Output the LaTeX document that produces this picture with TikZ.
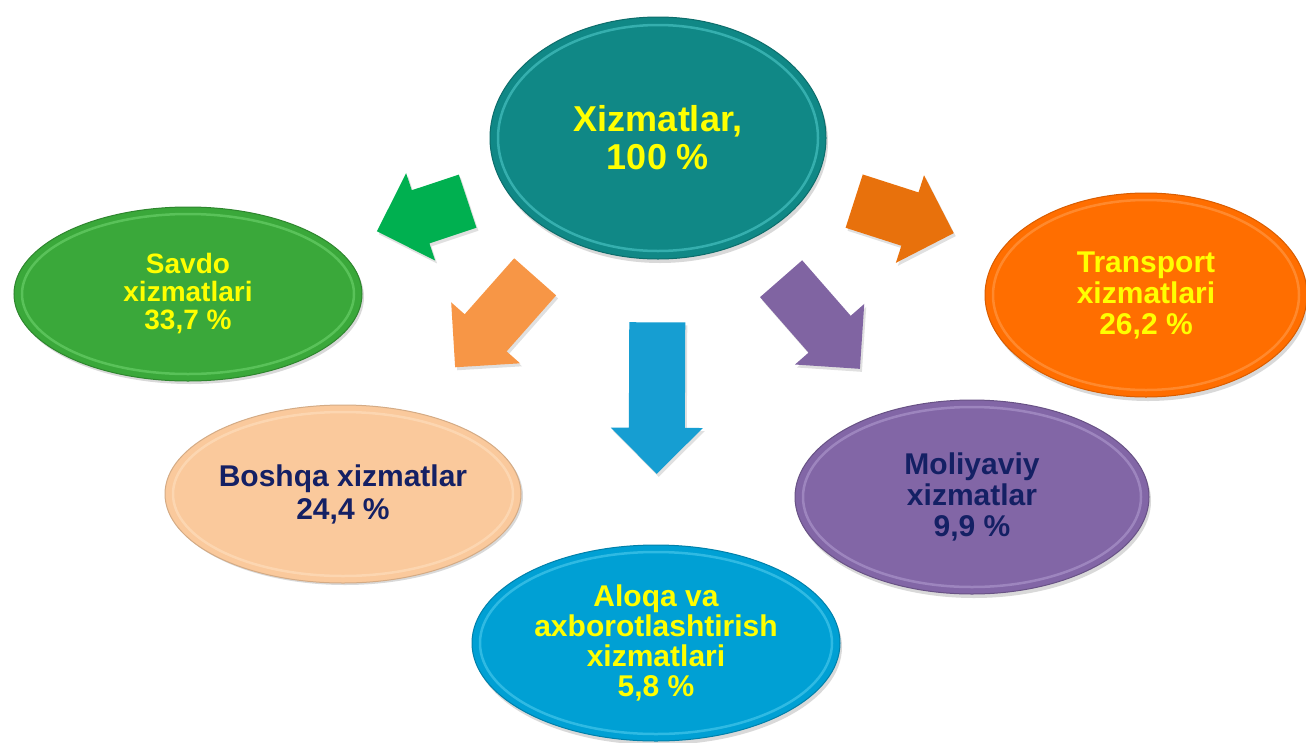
\documentclass[tikz,border=0pt]{standalone}
\usepackage{fontspec}
\setmainfont{Liberation Sans}
\usetikzlibrary{shapes.geometric,calc}

\definecolor{txtyellow}{RGB}{255,255,0}
\definecolor{txtnavy}{RGB}{20,32,100}
\definecolor{tealfill}{RGB}{16,136,134}
\definecolor{tealrim}{RGB}{90,215,215}
\definecolor{greenfill}{RGB}{58,168,58}
\definecolor{greenrim}{RGB}{120,220,120}
\definecolor{orangefill}{RGB}{255,110,0}
\definecolor{orangerim}{RGB}{255,165,90}
\definecolor{peachfill}{RGB}{250,201,156}
\definecolor{peachrim}{RGB}{255,228,198}
\definecolor{purplefill}{RGB}{130,102,166}
\definecolor{purplerim}{RGB}{185,165,215}
\definecolor{bluefill}{RGB}{0,160,212}
\definecolor{bluerim}{RGB}{95,212,242}
\definecolor{arrgreen}{RGB}{0,176,80}
\definecolor{arrorange}{RGB}{232,113,12}
\definecolor{arrpeach}{RGB}{247,150,70}
\definecolor{arrpurple}{RGB}{128,100,162}
\definecolor{arrblue}{RGB}{22,158,210}

\tikzset{
  blob/.style={ellipse, inner sep=0pt, align=center, line width=1pt,
    font=\bfseries\fontsize{30}{31}\selectfont},
  rim/.style={line width=2.5pt, draw opacity=0.5},
  shade/.style={fill=black, fill opacity=0.15, transform canvas={xshift=2pt,yshift=-4pt}},
}

% fat arrow along the line #1 -> #2, from fraction #3 to #4, colour #5
\newcommand{\fatarrow}[5]{%
  \coordinate (fa) at ($(#1.center)!#3!(#2.center)$);
  \coordinate (fb) at ($(#1.center)!#4!(#2.center)$);
  \coordinate (fh) at ($(fb)!46pt!(fa)$);
  \fill[black, fill opacity=0.12, transform canvas={xshift=2pt,yshift=-3pt}]
    ($(fa)!28pt!90:(fb)$) -- ($(fh)!28pt!90:(fb)$) -- ($(fh)!46pt!90:(fb)$) -- (fb)
    -- ($(fh)!46pt!-90:(fb)$) -- ($(fh)!28pt!-90:(fb)$) -- ($(fa)!28pt!-90:(fb)$) -- cycle;
  \fill[#5]
    ($(fa)!28pt!90:(fb)$) -- ($(fh)!28pt!90:(fb)$) -- ($(fh)!46pt!90:(fb)$) -- (fb)
    -- ($(fh)!46pt!-90:(fb)$) -- ($(fh)!28pt!-90:(fb)$) -- ($(fa)!28pt!-90:(fb)$) -- cycle;
}

\begin{document}
\begin{tikzpicture}[x=1pt,y=1pt,yscale=-1,xscale=1]
\useasboundingbox (0,0) rectangle (1306,742);
\fill[white] (0,0) rectangle (1306,742);

%Shape: Ellipse [top]
\fill[shade] (658,138) ellipse (168 and 121);
\node[blob, fill=tealfill, draw=tealfill!80!black, minimum width=336pt, minimum height=242pt,
  text=txtyellow, font=\bfseries\fontsize{36}{38}\selectfont] (top) at (658,138) {Xizmatlar,\\100 \%};
\draw[rim, draw=tealrim] (top.center) ellipse (160 and 113);

%Shape: Ellipse [savdo]
\fill[shade] (188,293) ellipse (174 and 87);
\node[blob, fill=greenfill, draw=greenfill!80!black, minimum width=348pt, minimum height=174pt,
  text=txtyellow, font=\bfseries\fontsize{28}{28}\selectfont] (savdo) at (188,294) {Savdo\\xizmatlari\\33,7 \%};
\draw[rim, draw=greenrim] (savdo.center) ellipse (166 and 80);

%Shape: Ellipse [transport]
\fill[shade] (1146,295) ellipse (161 and 102);
\node[blob, fill=orangefill, draw=orangefill!85!black, minimum width=322pt, minimum height=204pt,
  text=txtyellow] (transport) at (1146,295) {Transport\\xizmatlari\\26,2 \%};
\draw[rim, draw=orangerim] (transport.center) ellipse (153 and 95);

%Shape: Ellipse [boshqa]
\fill[shade] (343,492) ellipse (178 and 89);
\node[blob, fill=peachfill, draw=peachfill!85!black, minimum width=356pt, minimum height=178pt,
  text=txtnavy, font=\bfseries\fontsize{30}{33}\selectfont] (boshqa) at (343,494) {Boshqa xizmatlar\\24,4 \%};
\draw[rim, draw=peachrim] (boshqa.center) ellipse (170 and 82);

%Shape: Ellipse [moliya]
\fill[shade] (972,497) ellipse (177 and 97);
\node[blob, fill=purplefill, draw=purplefill!80!black, minimum width=354pt, minimum height=194pt,
  text=txtnavy] (moliya) at (972,497) {Moliyaviy\\xizmatlar\\9,9 \%};
\draw[rim, draw=purplerim] (moliya.center) ellipse (169 and 90);

%Shape: Ellipse [aloqa]
\fill[shade] (656,643) ellipse (184 and 98);
\node[blob, fill=bluefill, draw=bluefill!80!black, minimum width=368pt, minimum height=196pt,
  text=txtyellow, font=\bfseries\fontsize{30}{30}\selectfont] (aloqa) at (656,643) {Aloqa va\\axborotlashtirish\\xizmatlari\\5,8 \%};
\draw[rim, draw=bluerim] (aloqa.center) ellipse (176 and 91);

%Arrows
\fatarrow{top}{savdo}{0.405}{0.598}{arrgreen}
\fatarrow{top}{transport}{0.402}{0.606}{arrorange}
\fatarrow{top}{boshqa}{0.39}{0.644}{arrpeach}
\fatarrow{top}{moliya}{0.392}{0.643}{arrpurple}
\fatarrow{top}{aloqa}{0.365}{0.665}{arrblue}

\end{tikzpicture}
\end{document}
